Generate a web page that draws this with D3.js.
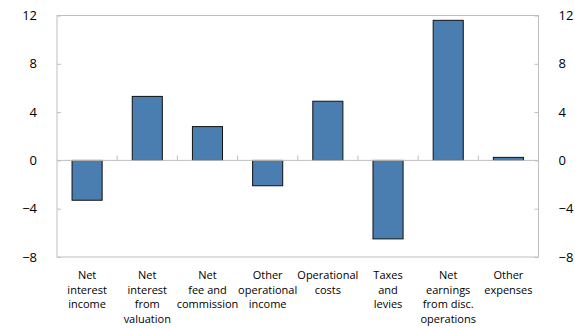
<!DOCTYPE html>
<html><head><meta charset="utf-8">
<script src="https://cdn.jsdelivr.net/npm/d3@7"></script>
<style>body{margin:0;background:#fff}svg{display:block}</style>
</head><body>
<script>
const categories = [
  ["Net","interest","income"],
  ["Net","interest","from","valuation"],
  ["Net","fee and","commission"],
  ["Other","operational","income"],
  ["Operational","costs"],
  ["Taxes","and","levies"],
  ["Net","earnings","from disc.","operations"],
  ["Other","expenses"]
];
const values = [-3.3, 5.3, 2.8, -2.1, 4.9, -6.5, 11.6, 0.25];
const yTicks = [-8, -4, 0, 4, 8, 12];

const W = 575, H = 328;
const m = {left: 57, right: 36.5, top: 15.5, bottom: 71};
const iw = W - m.left - m.right, ih = H - m.top - m.bottom;
const font = "'Open Sans', 'Noto Sans', sans-serif";
const grey = "#bfbfbf";

const svg = d3.select("body").append("svg").attr("width", W).attr("height", H);
const g = svg.append("g").attr("transform", `translate(${m.left},${m.top})`);

const x = d3.scaleBand().domain(d3.range(categories.length)).range([0, iw]).paddingInner(0.5).paddingOuter(0.25);
const y = d3.scaleLinear().domain([-8, 12]).range([ih, 0]);

// frame
g.append("rect").attr("x", 0).attr("y", 0).attr("width", iw).attr("height", ih)
  .attr("fill", "none").attr("stroke", grey).attr("stroke-width", 1);

// left axis
const la = g.append("g").call(d3.axisLeft(y).tickValues(yTicks).tickSize(-4).tickPadding(20).tickFormat(d3.format("d")));
la.select(".domain").remove();
la.selectAll(".tick line").attr("stroke", grey);
la.selectAll(".tick text").attr("font-family", font).attr("font-size", 13).attr("fill", "#000");

// right axis
const ra = g.append("g").attr("transform", `translate(${iw},0)`)
  .call(d3.axisRight(y).tickValues(yTicks).tickSize(-4).tickPadding(20).tickFormat(d3.format("d")));
ra.select(".domain").remove();
ra.selectAll(".tick line").attr("stroke", grey);
ra.selectAll(".tick text").attr("font-family", font).attr("font-size", 13).attr("fill", "#000");

// bars
g.selectAll("rect.bar").data(values).join("rect").attr("class", "bar")
  .attr("x", (d, i) => x(i))
  .attr("width", x.bandwidth())
  .attr("y", d => y(Math.max(0, d)))
  .attr("height", d => Math.abs(y(d) - y(0)))
  .attr("fill", "#4a7eb0").attr("stroke", "#111").attr("stroke-width", 1);

// zero line
g.append("line").attr("x1", 0).attr("x2", iw).attr("y1", y(0)).attr("y2", y(0)).attr("stroke", grey);
// category boundary ticks on zero line
const step = x.step();
g.selectAll("line.ctick").data(d3.range(1, categories.length + 1)).join("line").attr("class", "ctick")
  .attr("x1", i => i * step).attr("x2", i => i * step)
  .attr("y1", y(0)).attr("y2", y(0) - 5).attr("stroke", grey);

// category labels
const lab = g.selectAll("text.cat").data(categories).join("text").attr("class", "cat")
  .attr("x", (d, i) => x(i) + x.bandwidth() / 2)
  .attr("y", ih + 22)
  .attr("text-anchor", "middle").attr("font-family", font).attr("font-size", 11).attr("fill", "#000");
lab.selectAll("tspan").data(d => d).join("tspan")
  .attr("x", function() { return d3.select(this.parentNode).attr("x"); })
  .attr("dy", (d, i) => i === 0 ? 0 : 14.5)
  .text(d => d);
</script>
</body></html>
